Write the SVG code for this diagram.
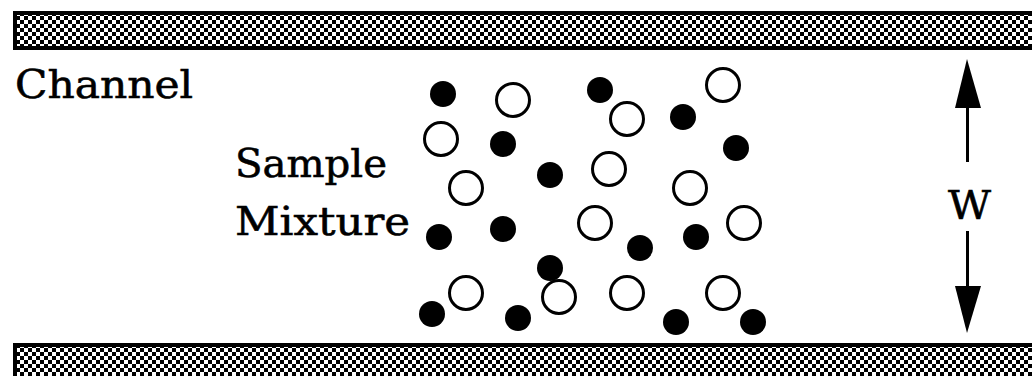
<svg xmlns="http://www.w3.org/2000/svg" width="1032" height="376" viewBox="0 0 1032 376">
<style>
.lbl{font-family:"DejaVu Serif","Liberation Serif",serif;font-size:40px;fill:#000;stroke:#000;stroke-width:0.6}
.open{fill:#fff;stroke:#000;stroke-width:3}
.dot{fill:#000}
.shaft{stroke:#000;stroke-width:3}
</style>
<defs>
<pattern id="chk" x="0" y="0" width="8" height="8" patternUnits="userSpaceOnUse">
<rect width="8" height="8" fill="#fff"/>
<rect x="0" y="0" width="4" height="4" fill="#000"/>
<rect x="4" y="4" width="4" height="4" fill="#000"/>
</pattern>
</defs>
<rect width="1032" height="376" fill="#fff"/>
<g id="wall-top">
<rect x="13" y="11" width="1019" height="39" fill="#000"/>
<rect x="17" y="15" width="1015" height="31" fill="url(#chk)"/>
</g>
<g id="wall-bottom">
<rect x="13" y="343" width="1019" height="33" fill="#000"/>
<rect x="17" y="347" width="1015" height="29" fill="url(#chk)"/>
</g>
<g id="labels">
<text class="lbl" x="15" y="98" textLength="178" lengthAdjust="spacingAndGlyphs">Channel</text>
<text class="lbl" x="235" y="177" textLength="152" lengthAdjust="spacingAndGlyphs">Sample</text>
<text class="lbl" x="235" y="235" textLength="175" lengthAdjust="spacingAndGlyphs">Mixture</text>
<text class="lbl" x="948" y="219" textLength="43" lengthAdjust="spacingAndGlyphs">W</text>
</g>
<g id="particles">
<circle class="dot" cx="443" cy="94" r="13"/>
<circle class="dot" cx="600" cy="90" r="13"/>
<circle class="dot" cx="683" cy="117" r="13"/>
<circle class="dot" cx="503" cy="144" r="13"/>
<circle class="dot" cx="736" cy="148" r="13"/>
<circle class="dot" cx="550" cy="175" r="13"/>
<circle class="dot" cx="439" cy="237" r="13"/>
<circle class="dot" cx="503" cy="229" r="13"/>
<circle class="dot" cx="640" cy="248" r="13"/>
<circle class="dot" cx="696" cy="237" r="13"/>
<circle class="dot" cx="550" cy="268" r="13"/>
<circle class="dot" cx="432" cy="314" r="13"/>
<circle class="dot" cx="518" cy="318" r="13"/>
<circle class="dot" cx="676" cy="322" r="13"/>
<circle class="dot" cx="753" cy="322" r="13"/>
<circle class="open" cx="513" cy="100" r="16.5"/>
<circle class="open" cx="723" cy="85" r="16.5"/>
<circle class="open" cx="627" cy="119" r="16.5"/>
<circle class="open" cx="441" cy="139" r="16.5"/>
<circle class="open" cx="609" cy="169" r="16.5"/>
<circle class="open" cx="466" cy="188" r="16.5"/>
<circle class="open" cx="690" cy="188" r="16.5"/>
<circle class="open" cx="595" cy="223" r="16.5"/>
<circle class="open" cx="744" cy="223" r="16.5"/>
<circle class="open" cx="466" cy="293" r="16.5"/>
<circle class="open" cx="559" cy="297" r="16.5"/>
<circle class="open" cx="627" cy="293" r="16.5"/>
<circle class="open" cx="723" cy="293" r="16.5"/>
</g>
<g id="connectors">
<line class="shaft" x1="967.5" y1="105" x2="967.5" y2="162"/>
<polygon points="967,59 981,108 955,108" fill="#000"/>
<line class="shaft" x1="967.5" y1="231" x2="967.5" y2="289"/>
<polygon points="955,286 981,286 967,333" fill="#000"/>
</g>
</svg>
